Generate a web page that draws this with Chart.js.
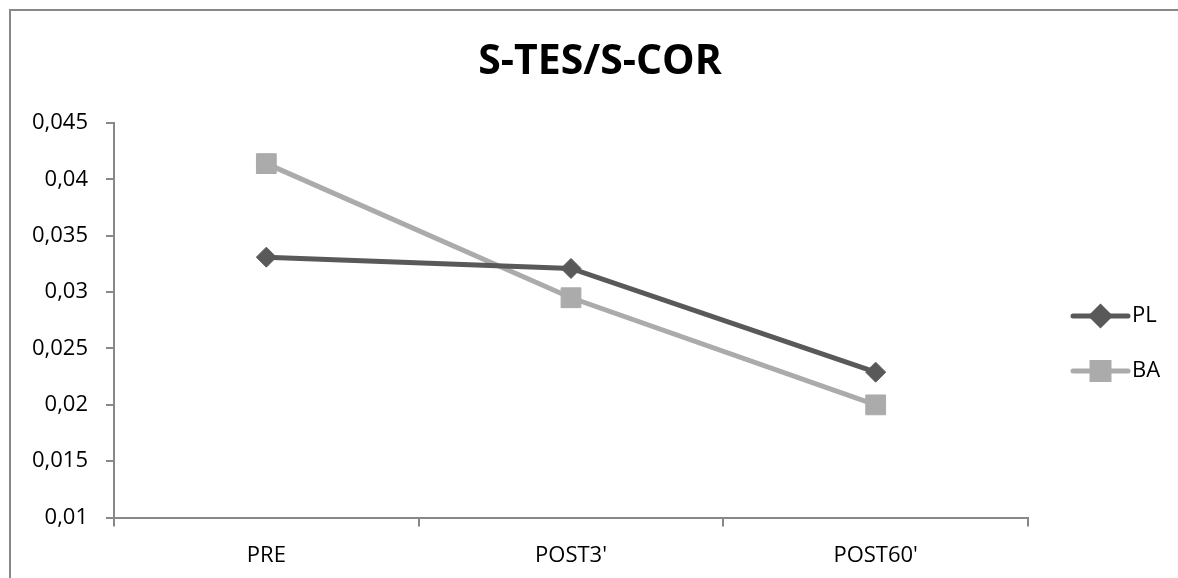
<!DOCTYPE html>
<html>
<head>
<meta charset="utf-8">
<script src="https://cdn.jsdelivr.net/npm/chart.js@4/dist/chart.umd.min.js"></script>
<style>
    html, body { margin: 0; padding: 0; background: #fff; overflow: hidden; }
    #wrap { position: relative; width: 1178px; height: 578px; overflow: hidden; }
    #frame { position: absolute; left: 9px; top: 9px; width: 1200px; height: 600px; border: 2px solid #888; pointer-events: none; }
</style>
</head>
<body>
<div id="wrap">
    <canvas id="ratioChart" width="1178" height="595"></canvas>
    <div id="frame"></div>
</div>
<script>
// chart data
const chartTitle = 'S-TES/S-COR';
const categories = ['PRE', "POST3'", "POST60'"];
const plValues = [0.0331, 0.0321, 0.0229];
const baValues = [0.0414, 0.0295, 0.0200];
const yTicks = [0.01, 0.015, 0.02, 0.025, 0.03, 0.035, 0.04, 0.045];

const axisColor = '#888888';
const fontFamily = "'Open Sans', 'DejaVu Sans', sans-serif";

// title centred on the whole canvas, legend on the right drawn as line + marker
const officeDecor = {
    id: 'officeDecor',
    afterDraw(chart) {
        const ctx = chart.ctx;
        ctx.save();
        ctx.fillStyle = '#000';
        ctx.font = 'bold 41px ' + fontFamily;
        ctx.textAlign = 'center';
        ctx.textBaseline = 'middle';
        ctx.fillText(chartTitle, 600, 62);
        ctx.restore();

        const x0 = 1073;
        const x1 = x0 + 55;
        chart.data.datasets.forEach((ds, i) => {
            const y = 316 + i * 55;
            ctx.save();
            ctx.strokeStyle = ds.borderColor;
            ctx.lineWidth = ds.borderWidth;
            ctx.lineCap = 'round';
            ctx.beginPath();
            ctx.moveTo(x0, y);
            ctx.lineTo(x1, y);
            ctx.stroke();
            ctx.fillStyle = ds.pointBackgroundColor;
            ctx.strokeStyle = ds.pointBackgroundColor;
            Chart.helpers.drawPoint(ctx, {
                pointStyle: ds.pointStyle,
                radius: ds.pointStyle === 'rect' ? 12 : 9,
                borderWidth: 1
            }, (x0 + x1) / 2, y);
            ctx.fillStyle = '#000';
            ctx.font = '22px ' + fontFamily;
            ctx.textBaseline = 'middle';
            ctx.textAlign = 'left';
            ctx.fillText(ds.label, x1 + 4, y);
            ctx.restore();
        });
    }
};

const ctx = document.getElementById('ratioChart').getContext('2d');
new Chart(ctx, {
    type: 'line',
    data: {
        labels: categories,
        datasets: [{
            label: 'PL',
            data: plValues,
            borderColor: '#595959',
            backgroundColor: '#595959',
            pointBackgroundColor: '#595959',
            pointBorderColor: '#595959',
            borderWidth: 5,
            pointStyle: 'rectRot',
            pointRadius: 10,
            pointBorderWidth: 1,
            tension: 0
        }, {
            label: 'BA',
            data: baValues,
            borderColor: '#ababab',
            backgroundColor: '#ababab',
            pointBackgroundColor: '#ababab',
            pointBorderColor: '#ababab',
            borderWidth: 5,
            pointStyle: 'rect',
            pointRadius: 14,
            pointBorderWidth: 1,
            tension: 0
        }]
    },
    options: {
        responsive: false,
        animation: false,
        layout: {
            padding: { left: 14, right: 150, top: 123, bottom: 10 }
        },
        plugins: {
            legend: { display: false },
            tooltip: { enabled: false },
            title: { display: false }
        },
        scales: {
            x: {
                offset: true,
                grid: {
                    offset: true,
                    drawOnChartArea: false,
                    drawTicks: true,
                    tickLength: 9,
                    color: axisColor,
                    lineWidth: 2
                },
                border: { color: axisColor, width: 2 },
                ticks: {
                    color: '#000',
                    padding: 16,
                    maxRotation: 0,
                    font: { family: fontFamily, size: 22 }
                }
            },
            y: {
                min: 0.01,
                max: 0.045,
                afterBuildTicks: axis => {
                    axis.ticks = yTicks.map(v => ({ value: v }));
                },
                grid: {
                    drawOnChartArea: false,
                    drawTicks: true,
                    tickLength: 8,
                    color: axisColor,
                    lineWidth: 2
                },
                border: { color: axisColor, width: 2 },
                ticks: {
                    color: '#000',
                    padding: 18,
                    font: { family: fontFamily, size: 22 },
                    callback: v => String(Math.round(v * 1000) / 1000).replace('.', ',')
                }
            }
        }
    },
    plugins: [officeDecor]
});
</script>
</body>
</html>
